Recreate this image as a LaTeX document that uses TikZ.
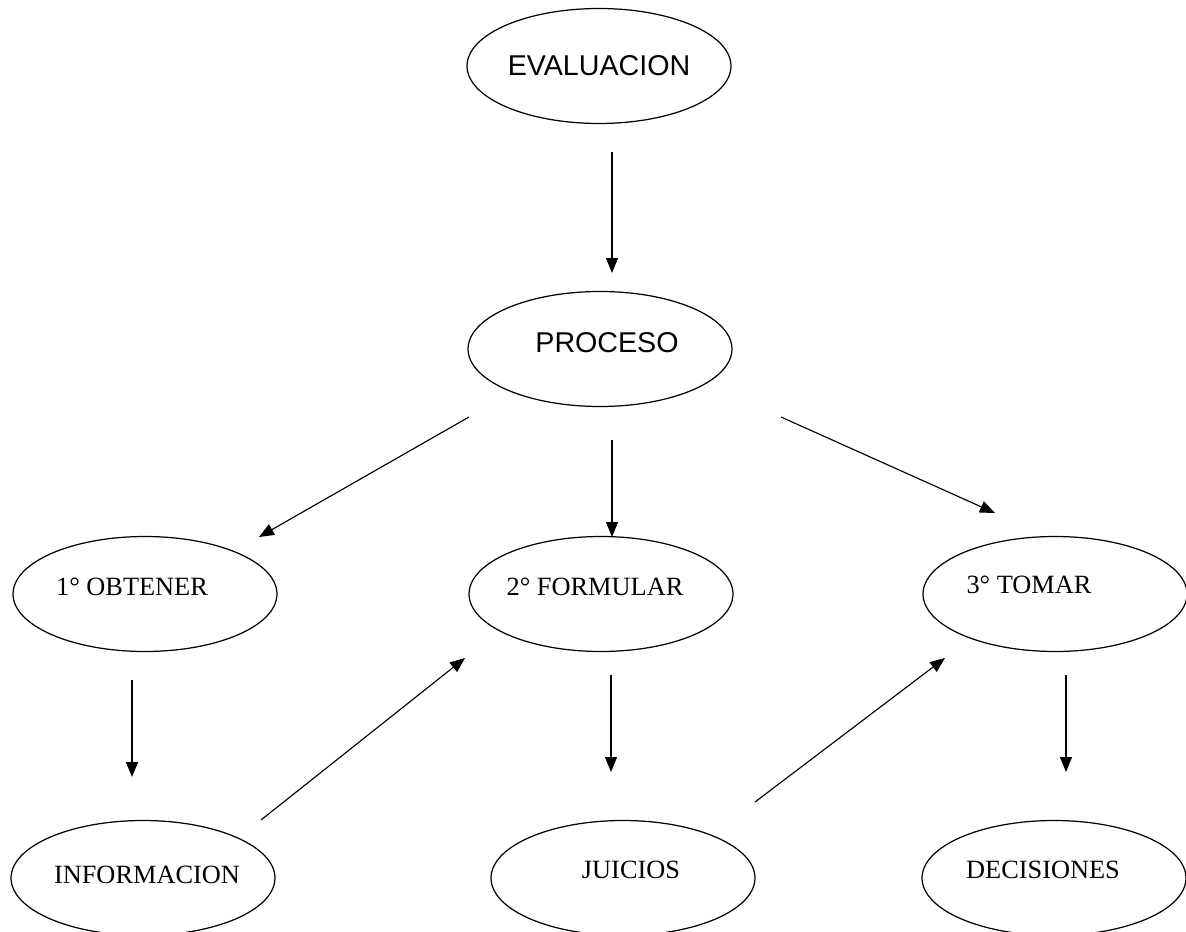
\documentclass[tikz,border=0pt]{standalone}
\usepackage{fontspec}
\setmainfont{Liberation Serif}
\newfontfamily\arialfont{Liberation Sans}
\usetikzlibrary{arrows.meta}
\usetikzlibrary{shapes.geometric}

\tikzset{
	oval/.style={ellipse, draw, line width=0.7pt, minimum width=5.28cm, minimum height=2.3cm, inner sep=0pt},
	serifword/.style={font=\fontsize{15}{18}\selectfont, inner sep=0pt},
	sansword/.style={font=\arialfont\fontsize{16.3}{19}\selectfont, inner sep=0pt},
	arrow/.style={line width=0.65pt, -{Triangle[length=3mm, width=2.4mm]}},
	thickarrow/.style={arrow, line width=1.1pt},
}

\begin{document}
\begin{tikzpicture}[x=0.02cm, y=-0.02cm]
	\useasboundingbox (0,0) rectangle (1186,932);
	\clip (0,0) rectangle (1186,932);

	% ellipses
	\node [oval] (eval) at (599,66) {};
	\node [oval] (proc) at (600,349) {};
	\node [oval] (obt) at (145,594) {};
	\node [oval] (form) at (601,594) {};
	\node [oval] (tomar) at (1055,594) {};
	\node [oval] (info) at (143,878) {};
	\node [oval] (juic) at (623,878) {};
	\node [oval] (deci) at (1054,878) {};

	% texts
	\node [sansword] (eval text) at (eval.center) {EVALUACION};
	\node [sansword] (proc text) at ([shift={(7,-6)}]proc.center) {PROCESO};
	\node [serifword] (obt text) at ([shift={(-13,-7)}]obt.center) {1° OBTENER};
	\node [serifword] (form text) at ([shift={(-6,-7)}]form.center) {2° FORMULAR};
	\node [serifword] (tomar text) at ([shift={(-26,-9)}]tomar.center) {3° TOMAR};
	\node [serifword] (info text) at ([shift={(4,-3)}]info.center) {INFORMACION};
	\node [serifword] (juic text) at ([shift={(8,-8)}]juic.center) {JUICIOS};
	\node [serifword] (deci text) at ([shift={(-11,-8)}]deci.center) {DECISIONES};

	% arrows
	\draw [arrow] ([shift={(13,86)}]eval.center) -- ([shift={(12,-76)}]proc.center);
	\draw [arrow] ([shift={(-131,68)}]proc.center) -- ([shift={(114,-57)}]obt.center);
	\draw [arrow] ([shift={(12,91)}]proc.center) -- ([shift={(11,-57)}]form.center);
	\draw [arrow] ([shift={(181,68)}]proc.center) -- ([shift={(-60,-81)}]tomar.center);
	\draw [thickarrow] ([shift={(-13,86)}]obt.center) -- ([shift={(-11,-101)}]info.center);
	\draw [arrow] ([shift={(118,-58)}]info.center) -- ([shift={(-136,64)}]form.center);
	\draw [arrow] ([shift={(10,81)}]form.center) -- ([shift={(-12,-106)}]juic.center);
	\draw [arrow] ([shift={(132,-76)}]juic.center) -- ([shift={(-110,64)}]tomar.center);
	\draw [arrow] ([shift={(11,81)}]tomar.center) -- ([shift={(12,-106)}]deci.center);
\end{tikzpicture}
\end{document}
